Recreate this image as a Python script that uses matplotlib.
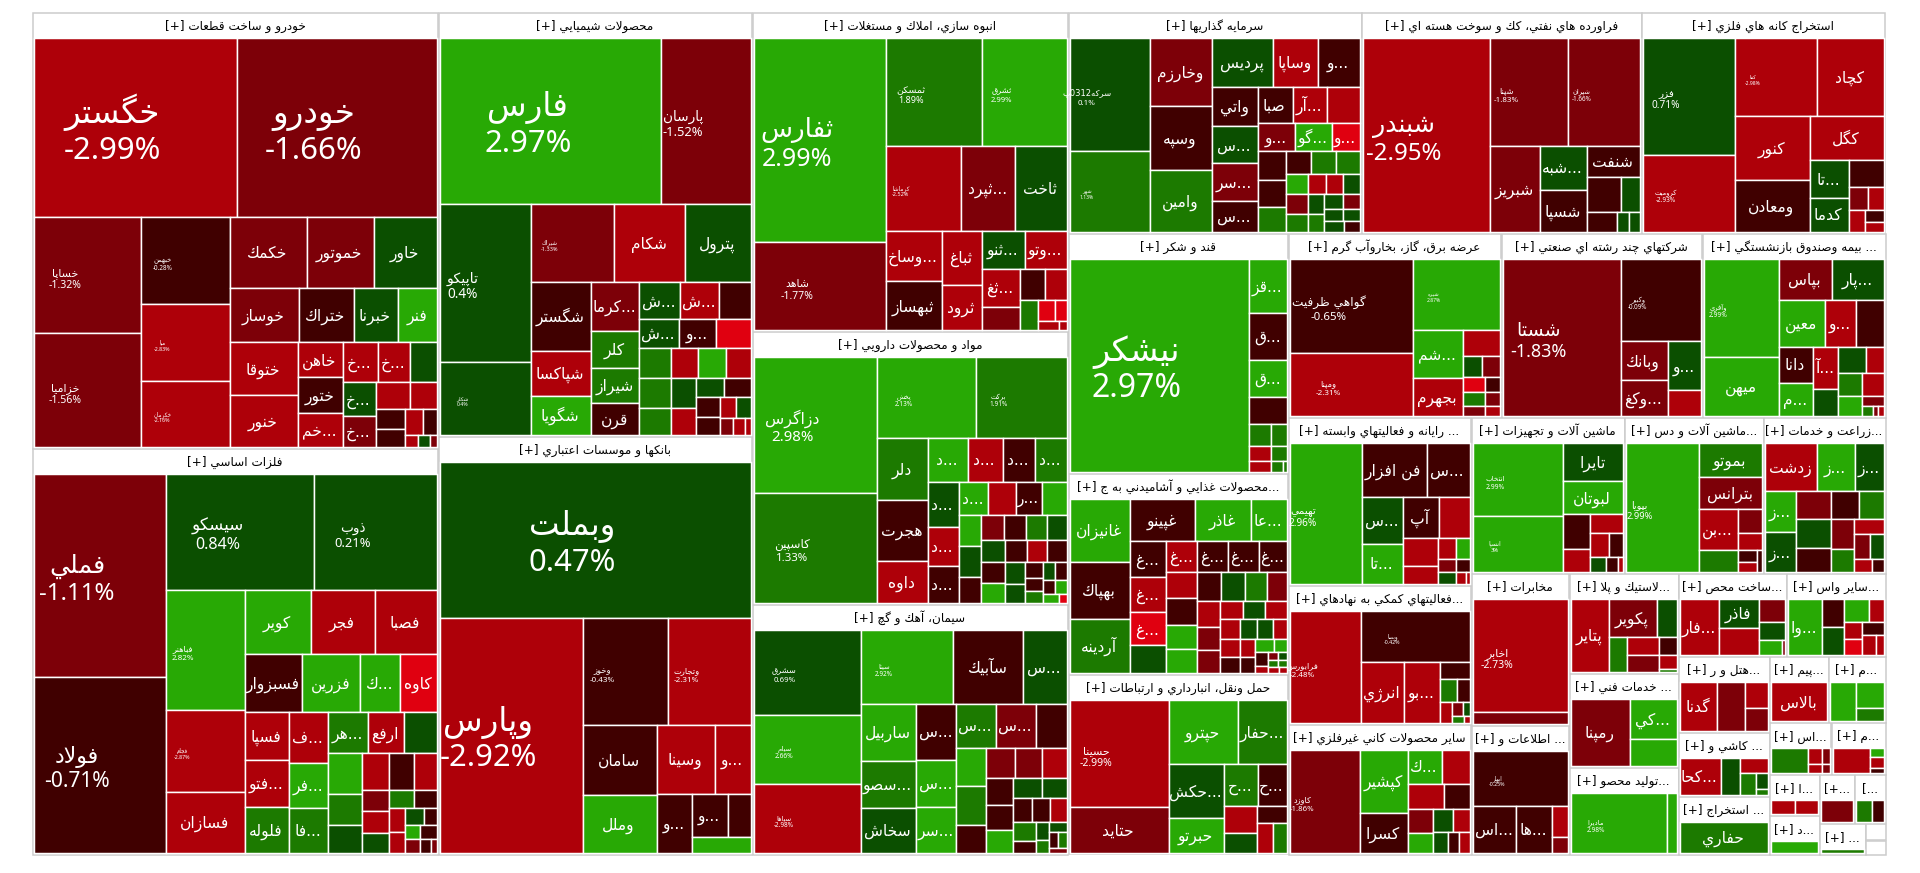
from matplotlib import pyplot as plt
from matplotlib.patches import Rectangle

# market map of the Tehran exchange: sector -> tiles
# every tile: symbol, size (market weight, arbitrary unit), change in percent
# strips: r = row along the top of what is left, c = column at its left, number = tiles in it

auto_names = ['خگستر','خودرو','خساپا','خزامیا','خبهمن','میا','خكرمان','خكمك','خموتور','خاور','خوساز','ختراك','خبرنا','فنر','ختوقا','خنور','خاهن','ختور','خم...','خ...','خ...','','خ...','خ...','','','','','','','','','']
auto_sizes = [328,323,112,110,69,61,52,49,42,40,34,27,22,19,33,32,14,14,13.7,12.7,11.2,9.8,10.4,9.3,8.4,6.6,4.9,4.7,4.2,3.2,1.5,1.3,0.8]
auto_change = [-2.99,-1.66,-1.32,-1.56,-0.28,-2.83,-2.16,-1.5,-1.5,0.5,-1.5,-0.5,0.5,2.5,-2.5,-2.5,-2.5,-0.5,-2.5,-2.5,-2.5,0.5,0.5,-1.5,-2.5,-2.5,-0.5,-0.5,-2.5,-0.5,-2.5,0.5,-1.5]
auto_strips = 'r2 c2 c3 r3 r4 c2 c3 r3 c2 r2 c2 r2 r3'

metal_names = ['فملي','فولاد','سيسكو','ذوب','فباهنر','فجام','فسازان','كوير','فجر','فصبا','فسبزوار','فزرين','ك...','كاوه','فسپا','فتو...','فلوله','ف...','فر...','فا...','هر...','ارفع','','','','','','','','','','','','','','','','','','','','','']
metal_sizes = [242,209,155,128,85,58,43,38,37,36,30,30,21,19,19,18.6,18.4,18,16,16,14.9,13.3,12.4,12,9.3,8.5,9,8.1,7.4,5.4,5.4,5,4.1,3.9,3.3,3,2.8,2,1.9,2.2,1.9,1.4,0.8]
metal_change = [-1.11,-0.71,0.84,0.21,2.82,-2.87,-2.5,2.5,-2.5,-2.5,-0.5,2.5,2.5,-3.5,-2.5,-2.5,1.5,-2.5,2.5,1.5,1.5,-2.5,0.5,2.5,1.5,0.5,-2.5,-0.5,-2.5,-1.5,-2.5,0.5,1.5,-0.5,-2.5,-2.5,0.5,-0.5,2.5,-0.5,-1.5,-0.5,-1.5]
metal_strips = 'c2 r2 c3 r3 r4 c3 c3 r3 c3 r3 c3 r2 c2 r2 r2 r3'

chem_names = ['فارس','پارسان','تاپيكو','شكلر','شيراك','شكام','پترول','شگستر','شپاكسا','شگويا','كرما...','كلر','شيراز','قرن','ش...','ش...','','ش...','و...','']+['']*17
chem_sizes = [265,107,103,48,47,40,37,30,20,17,17,12.6,12.3,11,11,10.5,8.5,8,7.6,7,6.8,5.9,6.1,5.5,6.9,6,5.5,4.8,4,3.8,3.4,3.2,2.3,2.2,1.7,1.4,0.8]
chem_change = [2.97,-1.52,0.4,0.4,-1.33,-2.5,0.5,-0.5,-2.5,2.5,-1.5,1.5,1.5,-0.5,0.5,-2.5,-0.5,0.5,-0.5,-3.5,1.5,-2.5,2.5,-2.5,1.5,1.5,0.5,-2.5,0.5,-0.5,-0.5,-0.5,-2.5,0.5,-1.5,-2.5,-2.5]
chem_strips = 'r2 c2 r3 c3 c4 r3 r3 r4 c2 c2 r2 c2 r2 r3'

bank_names = ['وبملت','وپارس','وخوز','وتجارت','سامان','وملل','وسينا','و...','و...','و...','','']
bank_sizes = [349,241,66,64,37,31,28.6,17.7,15.3,11.3,7.2,6.6]
bank_change = [0.47,-2.92,-0.43,-2.31,-0.5,2.5,-2.5,-2.5,-0.5,-0.5,-0.5,2.5]
bank_strips = 'r1 c1 r2 c2 r2 c1 r2 r1'

build_names = ['ثفارس','شاهد','ثمسكن','ثشرق','كرماشا','ثپرد...','ثاخت','وساخ...','ثبهساز','ثباغ','ثرود','ثنو...','وتو...','ثغ...','','','','','','','','']
build_sizes = [196,84,75,67,46,33,31.5,20.6,19.6,15.8,13.1,12,11.6,10.5,6.5,5.6,4.9,3.9,2.7,1.8,1.3,0.5]
build_change = [2.99,-1.77,1.89,2.99,-2.52,-1.5,0.5,-2.5,-0.5,-2.5,-2.5,0.5,-2.5,-2.5,-1.5,-0.5,-2.5,1.5,-3.5,-3.5,-2.5,-2.5]
build_strips = 'c2 r2 r3 c2 c2 r2 c2 r2 c1 r2 r2'

drug_names = ['دزاگرس','كاسپين','پخش','بركت','دلر','هجرت','داوه','د...','د...','د...','د...','د...','د...','د...','د...','','ر...','']+['']*24
drug_sizes = [121,98,58,53,22.6,22.3,15.3,12.7,11.1,10.2,10.2,10.1,8.8,8.3,7.1,6.5,6.4,5.9,5.1,5.1,4.3,4.1,3.9,3.8,3.7,3.8,3.6,3.2,3.2,3.6,3.5,3.1,2.6,2.1,1.8,1.6,1.5,1.5,1.2,1.2,1.05,0.5]
drug_change = [2.98,1.33,2.13,1.91,1.5,-0.5,-2.5,2.5,-2.5,-0.5,1.5,0.5,-2.5,-0.5,2.5,-2.5,-0.5,2.5,2.5,0.5,-0.5,-1.5,-0.5,1.5,0.5,0.5,-0.5,-2.5,-0.5,-0.5,2.5,0.5,0.5,-0.5,-0.5,1.5,0.5,-0.5,-0.5,2.5,2.5,-3.5]
drug_strips = 'c2 r2 c3 r4 c3 r4 c3 r4 r4 c2 c2 c3 r2 r2 r2'

cement_names = ['سشرق','سيام','سپاها','سيتا','سآبيك','س...','ساربيل','سصو...','سخاش','س...','س...','سر...','س...','س...']+['']*23
cement_sizes = [65,53,53,49,37,23,22.8,18.9,18.1,16.1,13.6,13.3,12.6,12.6,10,8.2,8.3,6,6.2,5.8,5.4,5.2,4.9,4.4,4.3,3.6,3.2,3.2,2.9,3,2,1.7,1.3,1.3,1,1,0.65]
cement_change = [0.69,2.66,-2.98,2.92,-0.5,0.5,2.5,1.5,0.5,-0.5,2.5,2.5,1.5,-1.5,-0.5,2.5,1.5,-0.5,-1.5,-1.5,-2.5,-0.5,-0.5,2.5,0.5,0.5,-0.5,-0.5,-2.5,1.5,-0.5,0.5,1.5,0.5,-0.5,1.5,-1.5]
cement_strips = 'c3 r3 c3 c3 r3 c3 r3 c3 r2 r3 c2 c2 r1 r2 r1'

invest_names = ['سركه0312پ','شهر','وخارزم','وسپه','وامين','پرديس','وساپا','و...','واتي','س...','سر...','س...','صبا','آر...','','و...','گو...','و...']+['']*20
invest_sizes = [80.5,58,37.6,35.9,34.4,26.8,19.6,18.7,15.9,15.3,15.2,12.9,10.9,10.9,10.5,9.2,9.2,7.1,7.1,6.7,6.2,5.1,5.1,5,4.1,3.3,3.3,3.1,4,3.5,2.9,2.6,2.4,2.2,2.1,1.9,1.9,1.6]
invest_change = [0.1,1.13,-1.5,-0.5,1.5,0.5,-2.5,-0.5,-0.5,0.5,-1.5,-0.5,-0.5,-2.5,-2.5,-1.5,2.5,-3.5,-0.5,-0.5,1.5,-0.5,1.5,1.5,2.5,-2.5,-2.5,0.5,-1.5,1.5,0.5,1.5,0.5,-1.5,0.5,0.5,0.5,-0.5]
invest_strips = 'c2 c3 r3 c4 r3 r3 c3 r3 r4 c2 c2 r2 r2 r2'

oil_names = ['شبندر','شپنا','شپران','شبريز','شبه...','شسپا','شنفت','','','','','']
oil_sizes = [219,74.7,68.6,37.9,18.3,17.8,15,10.3,6,5.3,2.2,2]
oil_change = [-2.95,-1.83,-1.66,-1.5,0.5,-0.5,-0.5,-0.5,0.5,-0.5,0.5,0.5]
oil_strips = 'c1 r2 c1 c2 r1 r2 r3'

mine_names = ['فزر','كروميت','كفا','كچاد','كنور','ومعادن','كگل','تا...','كدما','','','','','','']
mine_sizes = [94,62,56,46,42,34,28.8,12.9,11.8,8.2,3.9,3.3,3.1,1.9,1.65]
mine_change = [0.71,-2.93,-2.98,-2.5,-2.5,-0.5,-2.5,0.5,0.5,-0.5,-1.5,-2.5,-2.5,-0.5,-2.5]
mine_strips = 'c2 r2 c2 r1 c2 r1 r2 c1 r1 r1'

sugar_names = ['نيشكر','قز...','ق...','ق...','','','','','','','','']
sugar_sizes = [376,19.8,17.5,13.7,9.9,4.6,3.6,3.2,2.4,2.3,1.3,0.4]
sugar_change = [2.97,2.5,-0.5,2.5,-0.5,1.5,1.5,-2.5,1.5,-2.5,1.5,1.5]
sugar_strips = 'c1 r1 r1 r1 r1 r2 r2 r3'

food_names = ['غانيزان','بهپاك','آردينه','غپينو','غاذر','عا...','غ...','غ...','غ...','','غ...','غ...','غ...','غ...']+['']*32
food_sizes = [33.8,30.2,29.2,24.3,20.8,13.4,11.3,11.4,10.5,8.8,8.5,8.4,8.2,7.7,7.3,7.2,6.7,6.6,6.2,6.1,5.8,5.2,5.3,4.7,4.6,3.9,3.6,3.6,3.5,2.9,2.7,2.5,3.2,2.9,2.4,2.2,2.2,1.6,1.5,0.8,0.7,0.55,0.7,0.55,0.6,0.45]
food_change = [2.5,-0.5,1.5,-0.5,2.5,2.5,-0.5,-2.5,-3.5,0.5,-2.5,-0.5,-0.5,-0.5,-2.5,-0.5,2.5,2.5,-0.5,0.5,1.5,-1.5,-2.5,-1.5,-1.5,-2.5,0.5,-2.5,-2.5,0.5,0.5,-2.5,-2.5,-0.5,-2.5,-0.5,2.5,2.5,-0.5,-2.5,-1.5,0.5,1.5,1.5,-2.5,-2.5]
food_strips = 'c3 r3 c4 r4 c4 r4 c3 r3 r4 c2 c2 r2 c2 r2 r2 r2'

trans_names = ['حسينا','حتايد','حپترو','حفار...','حكش...','حبرتو','ح...','ح...','','','','','']
trans_sizes = [92.9,40.3,39.5,27.6,26.6,17.1,12.4,11,7.6,5.8,4.5,4.2,3.7]
trans_change = [-2.99,-1.5,2.5,1.5,0.5,2.5,1.5,-0.5,-2.5,0.5,-0.5,-2.5,1.5]
trans_strips = 'c2 r2 c2 r2 c2 r1 r2'

power_names = ['گواهي ظرفيت','ومپنا','شيره','شم...','بجهرم']+['']*9
power_sizes = [62.8,41.9,33,12.9,10.2,5.3,2.1,2,1.9,1.3,1.6,1.1,1.2,0.85]
power_change = [-0.65,-2.31,2.87,2.5,-2.5,-2.5,0.5,-1.5,-3.5,-0.5,1.5,-1.5,-1.5,-2.5]
power_strips = 'c2 r1 c2 r1 r2 r2 r2 r2'

multi_names = ['شستا','وكبير','وبانك','وكغ...','و...','']
multi_sizes = [99,35.4,9.8,9,8.7,4.6]
multi_change = [-1.83,-0.09,-1.5,-1.5,0.5,-2.5]
multi_strips = 'c1 r1 c2 r1 r1'

insur_names = ['وآفري','ميهن','بپاس','پار...','معين','و...','','دانا','م...','آ...']+['']*10
insur_sizes = [39.6,24.1,11.7,11.6,11.4,7.8,7,6.6,6,5.9,3.8,3.9,2.6,2.9,2.8,2.5,1.2,0.6,0.3,0.3]
insur_change = [2.99,2.5,-1.5,0.5,2.5,-2.5,-0.5,-0.5,2.5,-2.5,0.5,0.5,-2.5,1.5,-2.5,2.5,-1.5,1.5,-1.5,-2.5]
insur_strips = 'c2 r2 r3 c2 c2 r2 r2 c1 r1 r3'

it_names = ['تهيمي','فن افزار','س...','س...','تا...','آپ']+['']*10
it_sizes = [89,31.2,20.8,17,14.9,12.8,11.2,8.5,5.7,3.1,2.6,2.1,1.7,1.8,1.1,0.4]
it_change = [2.96,-0.5,-0.5,0.5,2.5,-0.5,-2.5,-2.5,-2.5,-2.5,2.5,-1.5,-0.5,0.5,-2.5,-2.5]
it_strips = 'c1 r2 c2 r2 c2 r2 r2 r3'

aux_names = ['فرابورس','وبصا','انرژي','بو...']+['']*8
aux_sizes = [69.9,49,23.1,19,4.5,3.3,2.6,2.2,1.5,0.85,0.75,0.35]
aux_change = [-2.48,-0.42,-2.5,-2.5,-0.5,1.5,-0.5,-2.5,-1.5,0.5,1.5,-2.5]
aux_strips = 'c1 r1 c1 c1 r1 r2 c1 r2 r2'

mineral_names = ['كاوزد','كپشير','كسرا','ك...']+['']*10
mineral_sizes = [63.4,26.3,16.9,10.2,8.5,7.8,5.6,5.5,4.5,4.1,3.6,2.6,2.1,1.9]
mineral_change = [-1.86,2.5,-0.5,2.5,-2.5,-2.5,-0.5,-1.5,2.5,0.5,-2.5,0.5,-0.5,-2.5]
mineral_strips = 'c1 c2 r2 r2 c2 r2 r3'

mach_names = ['انتخاب','انسپا','تايرا','لبوتان']+['']*8
mach_sizes = [56.8,44.4,19.8,17.1,8,5.3,5.4,3.9,3,2.2,1.6,0.7]
mach_change = [2.99,3,0.5,2.5,-0.5,-2.5,-2.5,-2.5,-0.5,0.5,-0.5,-2.5]
mach_strips = 'c2 r1 r1 c2 r1 r2 r3'

appl_names = ['بپويا','بموتو','بترانس','بن...']+['']*6
appl_sizes = [81.6,18.8,17.5,13.5,7.6,4.9,3.6,2.1,1.7,1]
appl_change = [2.99,1.5,-1.5,-2.5,1.5,-1.5,-2.5,-0.5,-2.5,-0.5]
appl_strips = 'c1 r1 r1 c2 r1 r1 c2 c1'

farm_names = ['زدشت','ز...','ز...','ز...','ز...']+['']*12
farm_sizes = [21.4,15.9,11.9,11.2,11,8.5,7.2,6.1,8.7,7.3,6,4.7,4.1,3.6,3,2,1.4]
farm_change = [-2.5,2.5,0.5,2.5,0.5,-1.5,-0.5,1.5,0.5,-0.5,-1.5,1.5,-2.5,-1.5,0.5,-2.5,-0.5]
farm_strips = 'r3 c2 r3 c2 c2 r1 r2 r2'

tele_names = ['اخابر','']
tele_sizes = [95.2,10.6]
tele_change = [-2.73,-1.5]
tele_strips = 'r1 r1'

info_names = ['ابهار','اس...','ها...','','']
info_sizes = [45.5,18.1,14.8,4.3,2.3]
info_change = [-0.25,-0.5,-0.5,-2.5,-1.5]
info_strips = 'r1 c1 c1 r1 r1'

tyre_names = ['پتاير','پكوير','','','','','','','']
tyre_sizes = [23.6,16,6.4,5.6,4.9,2.7,4.75,2.1,0.5]
tyre_change = [-2.5,-1.5,0.5,1.5,-2.5,-0.5,-1.5,-2.5,1.5]
tyre_strips = 'c1 r2 c1 r2 c1 r1 r1'

tech_names = ['رمپنا','كي...','']
tech_sizes = [33.9,16.5,10.9]
tech_change = [-1.5,2.5,2.5]
tech_strips = 'c1 r1 r1'

made_names = ['ماديرا','']
made_sizes = [49.5,5.25]
made_change = [2.98,2.5]
made_strips = 'c1 c1'

metalw_names = ['فار...','فاذر','','','','','']
metalw_sizes = [19.2,10.1,9.8,5.1,4.1,3.2,0.4]
metalw_change = [-2.5,0.5,-2.5,-1.5,0.5,2.5,-1.5]
metalw_strips = 'c1 c2 r1 r1 r2'

brok_names = ['وا...']+['']*9
brok_sizes = [16,5.4,5.5,4.8,2.9,2.65,2.5,2.5,2.4,1.3]
brok_change = [2.5,-0.5,0.5,2.5,-2.5,-2.5,-3.5,-0.5,-2.5,-2.5]
brok_strips = 'c1 c2 r2 c2 r1 r2'

hotel_names = ['گدنا','','','']
hotel_sizes = [15.8,12,5.1,4.5]
hotel_change = [-2.5,-1.5,-2.5,-1.5]
hotel_strips = 'c1 c1 r1 r1'

tile_names = ['كحا...','','','','','']
tile_sizes = [12.8,6.1,3.6,3,1.7,0.6]
tile_change = [-2.5,0.5,-2.5,1.5,0.5,1.5]
tile_strips = 'c1 c1 r1 c1 r1 r1'

# the small sectors at the bottom right
small_a = (['حفاري'],[1],[1.5],'r1')
small_b = (['بالاس'],[1],[-2.5],'r1')
small_c = (['','',''],[8.4,6.1,3.1],[2.5,2.5,1.5],'c1 r1 r1')
small_d = (['','','','',''],[7.6,1.8,1.1,1,0.6],[1.5,-2.5,-1.5,-2.5,-1.5],'c1 r2 r2')
small_e = (['','','',''],[7.7,1.05,1.26,0.63],[-2.5,2.5,-2.5,-0.5],'c1 r1 r1 r1')
small_f = (['',''],[70,68],[-2.5,-2.5],'c1 c1')
small_g = ([''],[1],[-1.5],'r1')
small_h = (['',''],[48,34],[1.5,-0.5],'c1 c1')
small_i = ([''],[1],[2.5],'r1')
small_j = ([''],[1],[1.5],'r1')
no_tiles = ([],[],[],'')

sector_titles = ['خودرو و ساخت قطعات','فلزات اساسي','محصولات شيميايي','بانكها و موسسات اعتباري',
                 'انبوه سازي، املاك و مستغلات','مواد و محصولات دارويي','سيمان، آهك و گچ',
                 'سرمايه گذاريها','فراورده هاي نفتي، كك و سوخت هسته اي','استخراج كانه هاي فلزي',
                 'قند و شكر','محصولات غذايي و آشاميدني به ج...','حمل ونقل، انبارداري و ارتباطات',
                 'عرضه برق، گاز، بخاروآب گرم','شركتهاي چند رشته اي صنعتي','بيمه وصندوق بازنشستگي ...',
                 'رايانه و فعاليتهاي وابسته ...','فعاليتهاي كمكي به نهادهاي...','ساير محصولات كاني غيرفلزي',
                 'ماشين آلات و تجهيزات','ماشين آلات و دس...','زراعت و خدمات...',
                 'مخابرات','اطلاعات و ...','لاستيك و پلا...','خدمات فني ...','توليد محصو...',
                 'ساخت محص...','ساير واس...','هتل و ر...','كاشي و ...','استخراج ...',
                 'پيم...','م...','اس...','م...','ا...','د...','[+...','[...','...','','']
sector_sizes = [1770,1648,1331,1312,1008,863,790,648,619,539,528,442,396,392,370,337,307,254,238,
                239,217,190,149,126,109,102.5,95,90,82,69,58,53,39,37.6,32,28,20.5,19.5,17,15,14.3,3.4,2.8]
sector_strips = 'c2 c2 c3 r3 c3 r3 c3 r3 c2 c3 r2 c3 r2 r2 c2 r2 c1 c2'

sector_tiles = [(auto_names,auto_sizes,auto_change,auto_strips),(metal_names,metal_sizes,metal_change,metal_strips),
                (chem_names,chem_sizes,chem_change,chem_strips),(bank_names,bank_sizes,bank_change,bank_strips),
                (build_names,build_sizes,build_change,build_strips),(drug_names,drug_sizes,drug_change,drug_strips),
                (cement_names,cement_sizes,cement_change,cement_strips),(invest_names,invest_sizes,invest_change,invest_strips),
                (oil_names,oil_sizes,oil_change,oil_strips),(mine_names,mine_sizes,mine_change,mine_strips),
                (sugar_names,sugar_sizes,sugar_change,sugar_strips),(food_names,food_sizes,food_change,food_strips),
                (trans_names,trans_sizes,trans_change,trans_strips),(power_names,power_sizes,power_change,power_strips),
                (multi_names,multi_sizes,multi_change,multi_strips),(insur_names,insur_sizes,insur_change,insur_strips),
                (it_names,it_sizes,it_change,it_strips),(aux_names,aux_sizes,aux_change,aux_strips),
                (mineral_names,mineral_sizes,mineral_change,mineral_strips),(mach_names,mach_sizes,mach_change,mach_strips),
                (appl_names,appl_sizes,appl_change,appl_strips),(farm_names,farm_sizes,farm_change,farm_strips),
                (tele_names,tele_sizes,tele_change,tele_strips),(info_names,info_sizes,info_change,info_strips),
                (tyre_names,tyre_sizes,tyre_change,tyre_strips),(tech_names,tech_sizes,tech_change,tech_strips),
                (made_names,made_sizes,made_change,made_strips),(metalw_names,metalw_sizes,metalw_change,metalw_strips),
                (brok_names,brok_sizes,brok_change,brok_strips),(hotel_names,hotel_sizes,hotel_change,hotel_strips),
                (tile_names,tile_sizes,tile_change,tile_strips),small_a,small_b,small_c,small_d,small_e,small_f,small_i,
                small_g,small_h,small_j,no_tiles,no_tiles]

# symbols that also show their percent, with the font height in pixels
percent_labels = {'خگستر':31,'خودرو':31,'خساپا':10.5,'خزامیا':10.5,'خبهمن':6.4,'میا':5.3,'خكرمان':5.3,
    'فملي':24,'فولاد':21,'سيسكو':16,'ذوب':13,'فباهنر':8,'فجام':5.3,
    'فارس':31,'پارسان':13,'تاپيكو':13.6,'شكلر':5.2,'شيراك':5.5,
    'وبملت':31,'وپارس':31,'وخوز':8,'وتجارت':8,
    'ثفارس':25,'شاهد':10.4,'ثمسكن':9,'ثشرق':7.7,'كرماشا':5.5,
    'دزاگرس':15,'كاسپين':11.4,'پخش':6.4,'بركت':6.4,
    'سشرق':7.8,'سيام':6.7,'سپاها':6.4,'سيتا':6.4,
    'سركه0312پ':8,'شهر':5,'شبندر':24,'شپنا':8,'شپران':6.3,
    'فزر':10,'كروميت':6.4,'كفا':5,'نيشكر':32,'حسينا':10.5,
    'گواهي ظرفيت':11.5,'ومپنا':8,'شيره':5,'شستا':18,'وكبير':6.3,'وآفري':6.6,
    'تهيمي':10,'فرابورس':8,'وبصا':5.3,'كاوزد':7.8,'انتخاب':6.8,'انسپا':5.8,'بپويا':9.3,
    'اخابر':10.5,'ابهار':5.3,'ماديرا':6.5}

reds = ['#400000','#7d0008','#ae0009','#e00010']
greens = ['#0b4f00','#1c7a00','#28a905','#33cc00']

# matplotlib does no arabic shaping, so pick the joined letter forms by hand
forms = {'ء':(0xFE80,),'آ':(0xFE81,0xFE82),'أ':(0xFE83,0xFE84),'ؤ':(0xFE85,0xFE86),'إ':(0xFE87,0xFE88),
    'ئ':(0xFE89,0xFE8A,0xFE8B,0xFE8C),'ا':(0xFE8D,0xFE8E),'ب':(0xFE8F,0xFE90,0xFE91,0xFE92),'ة':(0xFE93,0xFE94),
    'ت':(0xFE95,0xFE96,0xFE97,0xFE98),'ث':(0xFE99,0xFE9A,0xFE9B,0xFE9C),'ج':(0xFE9D,0xFE9E,0xFE9F,0xFEA0),
    'ح':(0xFEA1,0xFEA2,0xFEA3,0xFEA4),'خ':(0xFEA5,0xFEA6,0xFEA7,0xFEA8),'د':(0xFEA9,0xFEAA),'ذ':(0xFEAB,0xFEAC),
    'ر':(0xFEAD,0xFEAE),'ز':(0xFEAF,0xFEB0),'س':(0xFEB1,0xFEB2,0xFEB3,0xFEB4),'ش':(0xFEB5,0xFEB6,0xFEB7,0xFEB8),
    'ص':(0xFEB9,0xFEBA,0xFEBB,0xFEBC),'ض':(0xFEBD,0xFEBE,0xFEBF,0xFEC0),'ط':(0xFEC1,0xFEC2,0xFEC3,0xFEC4),
    'ظ':(0xFEC5,0xFEC6,0xFEC7,0xFEC8),'ع':(0xFEC9,0xFECA,0xFECB,0xFECC),'غ':(0xFECD,0xFECE,0xFECF,0xFED0),
    'ف':(0xFED1,0xFED2,0xFED3,0xFED4),'ق':(0xFED5,0xFED6,0xFED7,0xFED8),'ك':(0xFED9,0xFEDA,0xFEDB,0xFEDC),
    'ل':(0xFEDD,0xFEDE,0xFEDF,0xFEE0),'م':(0xFEE1,0xFEE2,0xFEE3,0xFEE4),'ن':(0xFEE5,0xFEE6,0xFEE7,0xFEE8),
    'ه':(0xFEE9,0xFEEA,0xFEEB,0xFEEC),'و':(0xFEED,0xFEEE),'ى':(0xFEEF,0xFEF0),'ي':(0xFEF1,0xFEF2,0xFEF3,0xFEF4),
    'پ':(0xFB56,0xFB57,0xFB58,0xFB59),'چ':(0xFB7A,0xFB7B,0xFB7C,0xFB7D),'ژ':(0xFB8A,0xFB8B),
    'ک':(0xFB8E,0xFB8F,0xFB90,0xFB91),'گ':(0xFB92,0xFB93,0xFB94,0xFB95),'ی':(0xFBFC,0xFBFD,0xFBFE,0xFBFF)}
lam_alef = {'ا':(0xFEFB,0xFEFC),'آ':(0xFEF5,0xFEF6),'أ':(0xFEF7,0xFEF8),'إ':(0xFEF9,0xFEFA)}

def shape(text):
    tail = ''
    while text.endswith('.') or text.endswith(' '):
        tail = text[-1] + tail
        text = text[:-1]
    out = []
    i = 0
    joined = False
    while i < len(text):
        c = text[i]
        if c not in forms:
            out.append(c)
            joined = False
            i += 1
            continue
        nxt = text[i+1] if i+1 < len(text) else ''
        if c == 'ل' and nxt in lam_alef:
            out.append(chr(lam_alef[nxt][1 if joined else 0]))
            joined = False
            i += 2
            continue
        f = forms[c]
        to_next = len(f) == 4 and nxt in forms
        if len(f) == 1:
            out.append(chr(f[0]))
        elif joined and to_next:
            out.append(chr(f[3]))
        elif to_next:
            out.append(chr(f[2]))
        elif joined:
            out.append(chr(f[1]))
        else:
            out.append(chr(f[0]))
        joined = to_next
        i += 1
    # right to left: flip the run, digits keep their own order
    res = ''
    run = ''
    for c in reversed(out):
        if c.isdigit():
            run = c + run
        else:
            res += run
            run = ''
            res += c
    return res + run + tail

def lay_out(x0, y0, x1, y1, sizes, strips):
    rects = []
    k = 0
    for s in strips.split():
        n = int(s[1:])
        part = sizes[k:k+n]
        frac = sum(part) / sum(sizes[k:])
        if s[0] == 'r':
            y = y0 + (y1-y0)*frac
            x = x0
            for v in part:
                w = (x1-x0)*v/sum(part)
                rects.append((x, y0, x+w, y))
                x += w
            y0 = y
        else:
            x = x0 + (x1-x0)*frac
            y = y0
            for v in part:
                h = (y1-y0)*v/sum(part)
                rects.append((x0, y, x, y+h))
                y += h
            x0 = x
        k += n
    return rects

def tile_color(v):
    colors = greens if v >= 0 else reds
    a = abs(v)
    if a < 1:
        return colors[0]
    if a < 2:
        return colors[1]
    if a <= 3:
        return colors[2]
    return colors[3]

def px(p):
    return p*0.72

fig = plt.figure(figsize=(19.2,8.73), dpi=100)
ax = fig.add_axes([0,0,1,1])
ax.set_xlim(0,1920)
ax.set_ylim(873,0)
ax.axis('off')

arabic = ['DejaVu Sans']
latin = ['Noto Sans','DejaVu Sans']

sector_rects = lay_out(33,13,1886,855,sector_sizes,sector_strips)
for rect, title, tiles in zip(sector_rects, sector_titles, sector_tiles, strict=True):
    x0,y0,x1,y1 = rect
    ax.add_patch(Rectangle((x0,y0),x1-x0-0.5,y1-y0-0.5,facecolor='white',edgecolor='#cccccc',linewidth=1.1,zorder=1))
    names,sizes,change,strips = tiles
    if title:
        label = title if title[0] == '[' else '[+] ' + shape(title)
        ax.text((x0+x1)/2-1,y0+17,label,ha='center',va='baseline',color='black',fontsize=px(12),family=arabic,zorder=5)
    if not names:
        continue
    rects = lay_out(x0+1,y0+25,x1-2,y1-2,sizes,strips)
    for r, name, v in zip(rects, names, change, strict=True):
        ax.add_patch(Rectangle((r[0],r[1]),r[2]-r[0],r[3]-r[1],facecolor=tile_color(v),edgecolor='white',linewidth=1.05,zorder=2))
        cx = (r[0]+r[2])/2
        cy = (r[1]+r[3])/2
        if name in percent_labels:
            fs = percent_labels[name]
            ax.text(cx-23,cy+3-0.25*fs,shape(name),ha='center',va='baseline',color='white',fontsize=px(fs*1.05),family=arabic,zorder=6)
            ax.text(cx-23,cy+3+0.9*fs,f'{v:g}%',ha='center',va='baseline',color='white',fontsize=px(fs),family=latin,zorder=6)
        elif name:
            ax.text(cx-1,cy+5.5,shape(name),ha='center',va='baseline',color='white',fontsize=px(15.5),family=arabic,zorder=6)

fig.savefig('out.png',dpi=100,facecolor='white')
